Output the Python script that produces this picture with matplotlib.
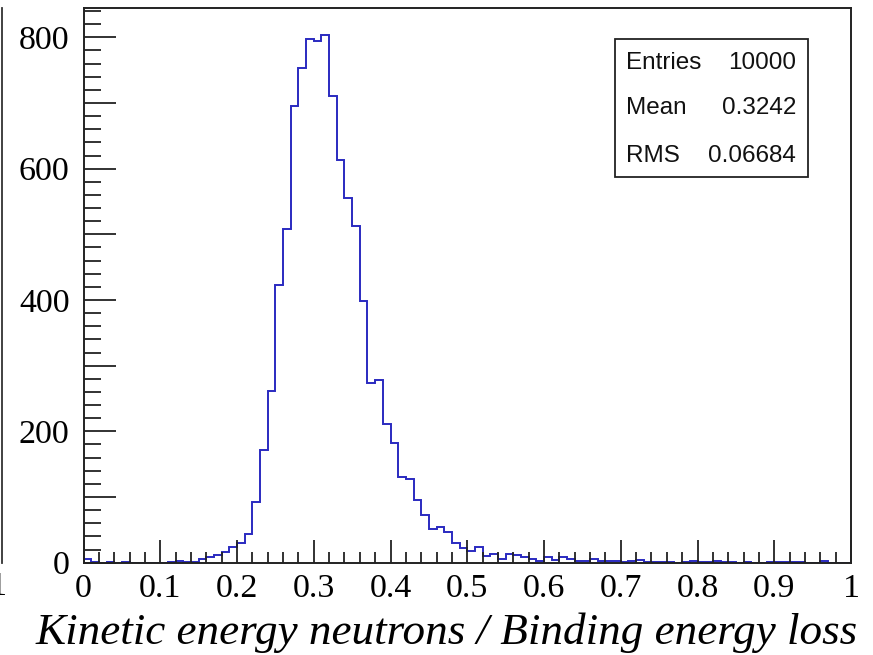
import numpy as np
import matplotlib
matplotlib.use("Agg")
import matplotlib.pyplot as plt
from matplotlib.ticker import MultipleLocator, FixedLocator

# Histogram: 100 bins between 0 and 1
bin_edges = np.linspace(0.0, 1.0, 101)
counts = [
    5, 1, 0, 1, 0, 1, 0, 0, 0, 0,
    0, 1, 2, 1, 1, 6, 8, 12, 17, 24,
    30, 43, 92, 172, 262, 423, 508, 696, 753, 797,
    795, 804, 711, 613, 556, 512, 398, 274, 278, 211,
    183, 131, 128, 95, 72, 51, 54, 47, 30, 23,
    18, 24, 10, 14, 5, 14, 12, 8, 5, 3,
    8, 4, 8, 5, 3, 3, 5, 2, 2, 2,
    1, 2, 4, 1, 1, 1, 1, 0, 1, 2,
    1, 1, 2, 1, 1, 0, 1, 0, 0, 1,
    1, 1, 1, 1, 0, 0, 3, 0, 0, 0,
]

x_tick_values = [0, 0.1, 0.2, 0.3, 0.4, 0.5, 0.6, 0.7, 0.8, 0.9, 1]
x_tick_labels = ["0", "0.1", "0.2", "0.3", "0.4", "0.5", "0.6", "0.7", "0.8", "0.9", "1"]
y_label_values = [0, 200, 400, 600, 800]
x_title = "Kinetic energy neutrons / Binding energy loss"

stats_names = ["Entries", "Mean", "RMS"]
stats_values = ["10000", "0.3242", "0.06684"]

W, H = 873, 655
fig = plt.figure(figsize=(W / 100, H / 100), dpi=100)
fig.patch.set_facecolor("white")

ax_l, ax_r, ax_b, ax_t = 83.5, 851.0, 562.7, 8.3
ax = fig.add_axes([ax_l / W, 1 - ax_b / H, (ax_r - ax_l) / W, (ax_b - ax_t) / H])

ax.stairs(counts, bin_edges, color="#2a2ac0", linewidth=1.4)

ax.set_xlim(0, 1)
ax.set_ylim(0, max(counts) * 1.05)

for s in ax.spines.values():
    s.set_color("#222222")
    s.set_linewidth(1.4)

serif = "Liberation Serif"
ax.xaxis.set_major_locator(FixedLocator(x_tick_values))
ax.set_xticklabels(x_tick_labels, fontfamily=serif, fontsize=24.5)
ax.xaxis.set_minor_locator(MultipleLocator(0.02))
ax.yaxis.set_minor_locator(MultipleLocator(20))
ax.set_yticks(np.arange(0, 801, 100))
ax.set_yticklabels([str(v) if v in y_label_values else "" for v in range(0, 801, 100)],
                   fontfamily=serif, fontsize=24.5)

ax.tick_params(axis="x", which="major", direction="in", length=16.5, width=1.3,
               color="#222222", pad=8, top=False)
ax.tick_params(axis="x", which="minor", direction="in", length=8, width=1.3,
               color="#222222", top=False)
ax.tick_params(axis="y", which="major", direction="in", length=23, width=1.3,
               color="#222222", pad=10, right=False)
ax.tick_params(axis="y", which="minor", direction="in", length=12, width=1.3,
               color="#222222", right=False)

# Axis title, aligned to the right end of the axis
fig.text(858 / W, 1 - 644 / H, x_title, ha="right", va="baseline",
         fontfamily=serif, fontstyle="italic", fontsize=32.5)

# Statistics box
box_l, box_r, box_t, box_b = 615, 808, 39, 177
box = plt.Rectangle((box_l / W, 1 - box_b / H), (box_r - box_l) / W, (box_b - box_t) / H,
                    transform=fig.transFigure, facecolor="white", edgecolor="#222222",
                    linewidth=1.3, zorder=5)
fig.patches.append(box)
row_y = [63, 108, 156]
for name, val, yy in zip(stats_names, stats_values, row_y):
    fig.text(626 / W, 1 - yy / H, name, ha="left", va="center",
             fontfamily="Liberation Sans", fontsize=17.5, color="#111111", zorder=6)
    fig.text(796 / W, 1 - yy / H, val, ha="right", va="center",
             fontfamily="Liberation Sans", fontsize=17.5, color="#111111", zorder=6)

# Edge of the neighbouring pad on the left
fig.add_artist(plt.Line2D([1.5 / W, 1.5 / W], [1 - 563 / H, 1 - 8 / H],
                          transform=fig.transFigure, color="#333333", linewidth=1.3))
fig.text(7 / W, 1 - 587 / H, "1", ha="right", va="center",
         fontfamily=serif, fontsize=24.5)

fig.savefig("out.png", dpi=100)
